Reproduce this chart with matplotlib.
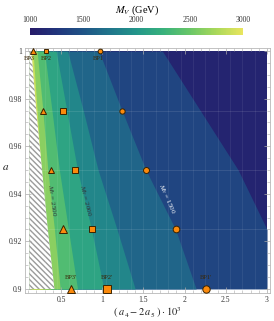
import numpy as np
import matplotlib
matplotlib.use('Agg')
import matplotlib.pyplot as plt
from matplotlib.colors import LinearSegmentedColormap, Normalize
from matplotlib.ticker import MultipleLocator

plt.rcParams['font.family'] = 'Liberation Serif'
plt.rcParams['mathtext.fontset'] = 'stix'

# contour boundaries: x position of each M_V level at these a values
a_rows = [0.9, 0.925, 0.95, 0.975, 1.0]
levels = [1250, 1500, 1750, 2000, 2250, 2500, 2750, 3000]
edges = {
    1250: [3.58, 3.12, 2.65, 2.19, 1.73],
    1500: [2.14, 1.89, 1.53, 1.24, 0.96],
    1750: [1.40, 1.18, 0.95, 0.77, 0.58],
    2000: [1.02, 0.87, 0.70, 0.57, 0.44],
    2250: [0.70, 0.59, 0.48, 0.39, 0.30],
    2500: [0.49, 0.42, 0.34, 0.28, 0.21],
    2750: [0.37, 0.32, 0.26, 0.21, 0.16],
    3000: [0.28, 0.24, 0.19, 0.16, 0.12],
}
excluded = [0.42, 0.34, 0.27, 0.20, 0.14]

# benchmark points
bp_a = [1.0, 0.975, 0.95, 0.925, 0.9]
bp3_x = [0.164, 0.278, 0.379, 0.52, 0.618]
bp2_x = [0.318, 0.52, 0.67, 0.876, 1.06]
bp1_x = [0.97, 1.237, 1.53, 1.896, 2.26]
msizes = [3.4, 3.8, 4.3, 4.8, 5.3]

cb_ticks = [1000, 1500, 2000, 2500, 3000]
x_ticks = [0.5, 1, 1.5, 2, 2.5, 3]
y_ticks = [0.9, 0.92, 0.94, 0.96, 0.98, 1.0]
y_ticklabels = ['0.9', '0.92', '0.94', '0.96', '0.98', '1']

cmap = LinearSegmentedColormap.from_list('mv', [
    (0.0, '#261a68'), (0.125, '#21357c'), (0.25, '#1f5486'), (0.375, '#20768b'),
    (0.5, '#23968a'), (0.625, '#38b17c'), (0.75, '#68c668'), (0.875, '#a9d85a'),
    (1.0, '#e9e55e')])
norm = Normalize(1000, 3000)

fig = plt.figure(figsize=(2.74, 3.21), dpi=100)
ax = fig.add_axes([25/274, 28/321, 244.5/274, 245.5/321])

x0, x1 = 0.115, 3.0
ay = np.array(a_rows)
# base band
ax.fill_betweenx(ay, x0, x1, color=cmap(norm(1100)), lw=0)
for L in levels:
    mid = min(L + 125, 3000)
    ax.fill_betweenx(ay, x0, np.minimum(edges[L], x1), color=cmap(norm(mid)), lw=0)
ax.fill_betweenx(ay, x0, excluded, facecolor='white', edgecolor='#9a9a9a',
                 hatch='\\\\\\\\\\\\', lw=0)

for g in [0.925, 0.95, 0.975]:
    ax.plot([x0, x1], [g, g], color='white', alpha=0.12, lw=0.6)
for g in np.arange(0.15, 3.0, 0.15):
    ax.plot([g, g], [0.9, 1.0], color='white', alpha=0.08, lw=0.6)

for xs, mk in [(bp3_x, '^'), (bp2_x, 's'), (bp1_x, 'o')]:
    for x, a, s in zip(xs, bp_a, msizes):
        ax.plot(x, a, marker=mk, ms=s + (0.6 if mk == '^' else 0), mfc='#fb8a0c',
                mec='#3a2300', mew=0.7, clip_on=False, zorder=5)

for name, x in [('BP3', bp3_x[0] - 0.05), ('BP2', bp2_x[0]), ('BP1', bp1_x[0] - 0.02)]:
    ax.annotate(name, (x, 1.0), xytext=(0, -5.5), textcoords='offset points',
                ha='center', va='center', fontsize=4.6, color='#3a2808', zorder=6)
for name, x in [("BP3'", bp3_x[-1]), ("BP2'", bp2_x[-1]), ("BP1'", bp1_x[-1])]:
    ax.annotate(name, (x, 0.9), xytext=(0, 8), textcoords='offset points',
                ha='center', va='center', fontsize=4.6, color='#3a2808', zorder=6)

ax.text(0.39, 0.937, r'$M_V$ = 2500', rotation=-82, fontsize=5, color='#333333',
        ha='center', va='center')
ax.text(0.79, 0.937, r'$M_V$ = 2000', rotation=-76, fontsize=5, color='#333333',
        ha='center', va='center')
ax.text(1.78, 0.9377, r'$M_V$ = 1500', rotation=-66, fontsize=5, color='white',
        ha='center', va='center')

ax.set_xlim(0.063, 3.03)
ax.set_ylim(0.8983, 1.0015)
ax.set_xticks(x_ticks)
ax.set_xticklabels(['0.5', '1', '1.5', '2', '2.5', '3'])
ax.set_yticks(y_ticks)
ax.set_yticklabels(y_ticklabels)
ax.xaxis.set_minor_locator(MultipleLocator(0.1))
ax.yaxis.set_minor_locator(MultipleLocator(0.005))
ax.tick_params(which='both', direction='in', top=True, right=True, color='#aaaaaa',
               labelsize=5.5, labelcolor='#333333', pad=2)
ax.tick_params(which='major', length=4, width=0.5)
ax.tick_params(which='minor', length=2, width=0.4)
for sp in ax.spines.values():
    sp.set_color('#b8b8b8')
    sp.set_linewidth(0.6)
ax.set_xlabel(r'$(\ a_4 - 2\,a_5\ )\cdot 10^3$', fontsize=7.5, color='#222222')
ax.xaxis.set_label_coords(0.5, -0.078)
ax.xaxis.label.set_va('center')
ax.set_ylabel(r'$a$', fontsize=8, rotation=0, color='#222222')
ax.yaxis.set_label_coords(-0.078, 0.51)
ax.yaxis.label.set_va('center')

cax = fig.add_axes([30/274, 1 - 35/321, 213/274, 7/321])
sm = plt.cm.ScalarMappable(norm=norm, cmap=cmap)
cb = fig.colorbar(sm, cax=cax, orientation='horizontal', ticks=cb_ticks)
cb.outline.set_visible(False)
cax.xaxis.set_ticks_position('top')
cax.xaxis.set_label_position('top')
cax.tick_params(labelsize=5.5, length=0, pad=3, labelcolor='#333333')
fig.text(137/274, 1 - 10/321, r'$M_V$ (GeV)', ha='center', va='center', fontsize=7.5)

fig.savefig('out.png', dpi=100)
